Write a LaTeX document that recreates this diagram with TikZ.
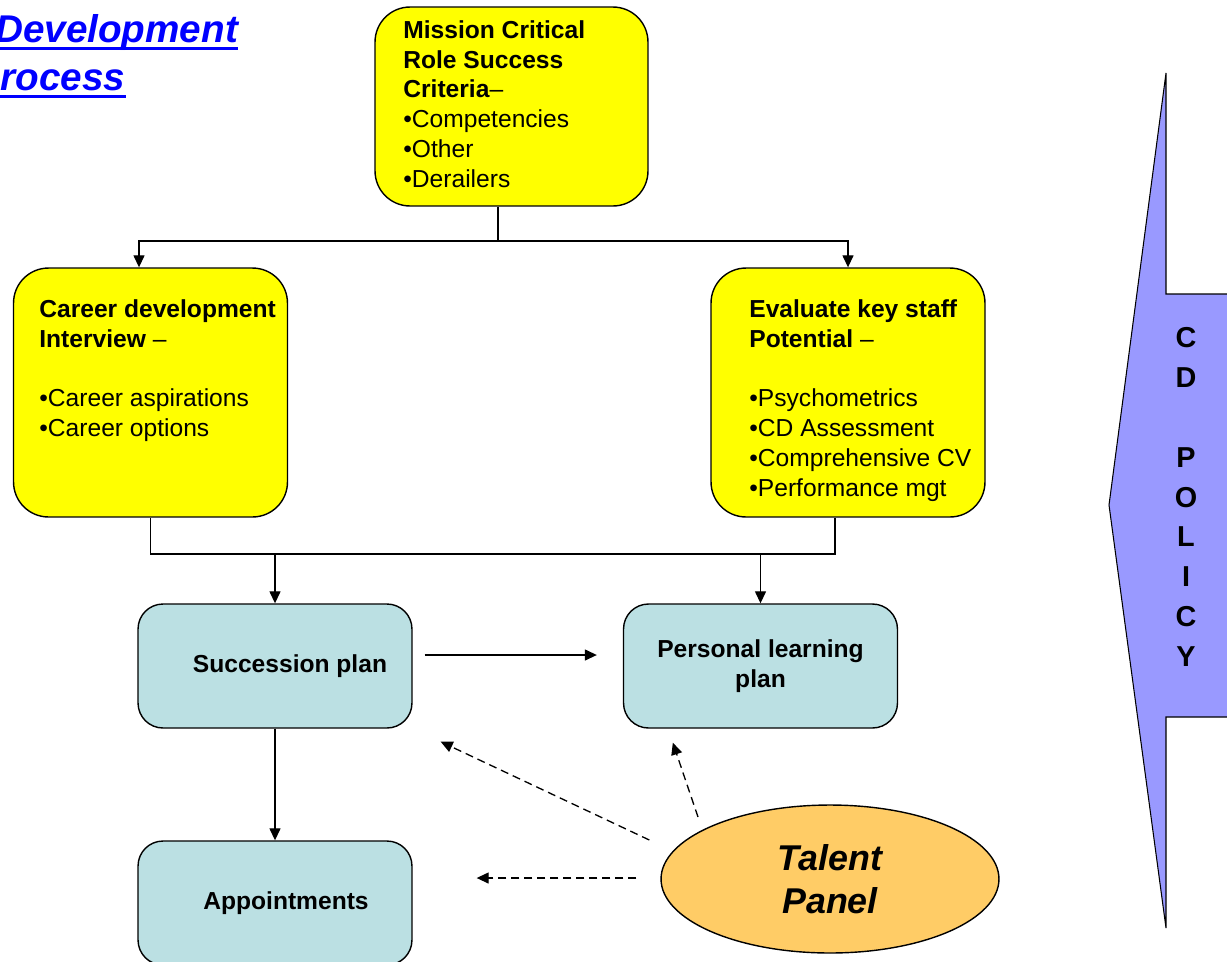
\documentclass[tikz,border=0pt]{standalone}
\usepackage{fontspec}
\setmainfont{Liberation Sans}
\usetikzlibrary{arrows.meta, shapes.geometric, positioning}
\definecolor{boxyellow}{HTML}{FFFF00}
\definecolor{boxblue}{HTML}{BBE0E3}
\definecolor{panelorange}{HTML}{FFCC66}
\definecolor{policyblue}{HTML}{9999FF}
\definecolor{titleblue}{HTML}{0000FF}

\begin{document}
\begin{tikzpicture}[x=0.02cm, y=-0.02cm]
        % Setup the styles for the boxes and links
        \tikzset{yellow box/.style={draw,
                                    line width=0.8pt,
                                    fill=boxyellow,
                                    rounded corners=0.7cm,
                                    minimum width=5.48cm,
                                    minimum height=4.98cm,
                                    inner sep=0pt},
                 blue box/.style={draw,
                                  line width=0.8pt,
                                  fill=boxblue,
                                  rounded corners=0.5cm,
                                  minimum width=5.48cm,
                                  minimum height=2.48cm,
                                  inner sep=0pt,
                                  align=center,
                                  font=\bfseries\fontsize{14}{17}\selectfont},
                 box text/.style={anchor=north west,
                                  inner sep=0pt,
                                  align=left,
                                  font=\fontsize{14}{17}\selectfont},
                 link/.style={line width=0.75pt,
                              -{Triangle[length=0.24cm, width=0.22cm]}},
                 dashed link/.style={link,
                                     dash pattern=on 0.16cm off 0.1cm}}

        \useasboundingbox (0,0) rectangle (1227,961);

        % Title
        \node[anchor=base, inner sep=0pt, text=titleblue,
              font=\bfseries\itshape\fontsize{22}{26}\selectfont] (title1) at (50,42) {Career Development};
        \node[anchor=base, inner sep=0pt, text=titleblue,
              font=\bfseries\itshape\fontsize{22}{26}\selectfont] (title2) at (50,90) {Process};
        \draw[titleblue, line width=1.7pt] ([yshift=-0.13cm]title1.base west) -- ([yshift=-0.13cm]title1.base east);
        \draw[titleblue, line width=1.7pt] ([yshift=-0.13cm]title2.base west) -- ([yshift=-0.13cm]title2.base east);

        % Policy arrow
        \draw[fill=policyblue, line width=0.6pt] (1109,505) -- (1166,73) -- (1166,294) -- (1240,294)
            -- (1240,717) -- (1166,717) -- (1166,928) -- cycle;
        \node[inner sep=0pt, align=center,
              font=\bfseries\fontsize{16.4}{22.7}\selectfont] (policy) at (1186,497) {C\\D\\\mbox{}\\P\\O\\L\\I\\C\\Y};

        % Draw the boxes
        \node[yellow box, minimum width=5.46cm, minimum height=3.98cm] (mission) at (511.5,106.5) {};
        \node[yellow box] (career)   at (150.5,392.5) {};
        \node[yellow box] (evaluate) at (848,392.5)   {};
        \node[blue box] (succession) at (275,666)   {\hspace*{0.6cm}Succession plan};
        \node[blue box] (personal)   at (760.5,666) {Personal learning\\plan};
        \node[blue box] (appoint)    at (275,903)   {\hspace*{0.44cm}Appointments};
        \node[ellipse, draw, line width=0.8pt, fill=panelorange,
              minimum width=6.76cm, minimum height=2.96cm, inner sep=0pt, align=center,
              font=\bfseries\itshape\fontsize{20.4}{24.4}\selectfont] (talent) at (830,879) {Talent\\Panel};

        % Box texts
        \node[box text] (mission text) at (403,20)
            {\textbf{Mission Critical}\\\textbf{Role Success}\\\textbf{Criteria}–\\•Competencies\\•Other\\•Derailers};
        \node[box text] (career text) at (39,299)
            {\textbf{Career development}\\\textbf{Interview} –\\[17pt]•Career aspirations\\•Career options};
        \node[box text] (evaluate text) at (749,299)
            {\textbf{Evaluate key staff}\\\textbf{Potential} –\\[17pt]•Psychometrics\\•CD Assessment\\•Comprehensive CV\\•Performance mgt};

        % Connect the boxes with arrows
        \coordinate (top split) at (498,241);
        \coordinate (bottom join) at (0,554);
        \coordinate (evaluate foot) at ([xshift=-0.26cm]evaluate.south);
        \draw[line width=0.75pt] (mission.south -| top split) -- (top split);
        \draw[link] (top split) -| ([xshift=-0.23cm]career.north);
        \draw[link] (top split) -| (evaluate.north);
        \draw[line width=0.75pt] (career.south) |- (evaluate foot |- bottom join) -- (evaluate foot);
        \draw[link] (succession.north |- bottom join) -- (succession.north);
        \draw[link] (personal.north |- bottom join) -- (personal.north);
        \draw[link] ([shift={(12,-11)}]succession.east) -- ([shift={(-26,-11)}]personal.west);
        \draw[link] (succession) -- (appoint);

        % Talent panel links
        \draw[dashed link] ([shift={(-11,-39)}]talent.west) -- ([shift={(28,13)}]succession.south east);
        \draw[dashed link] ([shift={(-132,-62)}]talent.center) -- ([shift={(50,14)}]personal.south west);
        \draw[dashed link] ([shift={(-24,-1)}]talent.west) -- ([shift={(64,-25)}]appoint.east);
\end{tikzpicture}
\end{document}
